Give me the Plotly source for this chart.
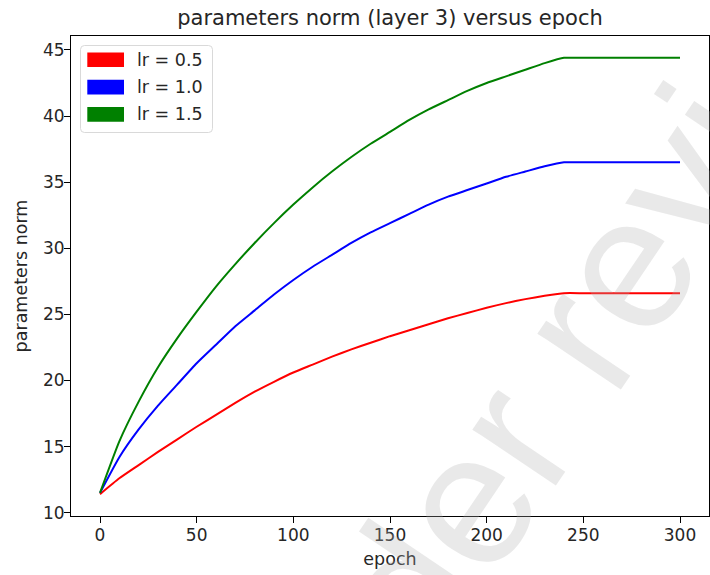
import plotly.graph_objects as go

# ---- data ----
epochs = [0, 10, 20, 30, 40, 50, 60, 70, 80, 90, 100, 110, 120, 130, 140, 150,
          160, 170, 180, 190, 200, 210, 220, 230, 240, 250, 260, 270, 280, 290, 300]
norm_lr_05 = [11.4, 12.6, 13.6, 14.6, 15.55, 16.5, 17.4, 18.3, 19.15, 19.9, 20.6, 21.2, 21.8,
              22.35, 22.85, 23.35, 23.8, 24.25, 24.7, 25.1, 25.5, 25.85, 26.15, 26.4, 26.6,
              26.6, 26.6, 26.6, 26.6, 26.6, 26.6]
norm_lr_10 = [11.5, 14.2, 16.3, 18.1, 19.7, 21.3, 22.7, 24.1, 25.3, 26.5, 27.6, 28.6, 29.5,
              30.4, 31.2, 31.9, 32.6, 33.3, 33.9, 34.4, 34.9, 35.4, 35.8, 36.2, 36.5,
              36.5, 36.5, 36.5, 36.5, 36.5, 36.5]
norm_lr_15 = [11.5, 15.4, 18.4, 21.0, 23.2, 25.2, 27.1, 28.8, 30.4, 31.9, 33.3, 34.6, 35.8,
              36.9, 37.9, 38.8, 39.7, 40.5, 41.2, 41.9, 42.5, 43.0, 43.5, 44.0, 44.4,
              44.4, 44.4, 44.4, 44.4, 44.4, 44.4]
series_labels = ["lr = 0.5", "lr = 1.0", "lr = 1.5"]
series_colors = ["#ff0000", "#0000ff", "#008000"]
x_ticks = [0, 50, 100, 150, 200, 250, 300]
y_ticks = [10, 15, 20, 25, 30, 35, 40, 45]

W, H = 710, 575
L, R, T, B = 71, 709, 36, 516  # plot area in pixels

def px(x):
    return (x - L) / (R - L)

def py(y):
    return (B - y) / (B - T)

FONT = "DejaVu Sans"
TXT = "#262626"

fig = go.Figure()
for vals, name, col in zip([norm_lr_05, norm_lr_10, norm_lr_15], series_labels, series_colors):
    fig.add_trace(go.Scatter(x=epochs, y=vals, mode="lines", name=name,
                             line=dict(color=col, width=2, shape="spline", smoothing=0.5),
                             showlegend=False, hoverinfo="skip"))

axis_common = dict(showgrid=False, zeroline=False, showline=True, mirror=True,
                   linecolor="#000000", linewidth=1, ticks="outside", ticklen=6,
                   tickcolor="#000000", tickwidth=1,
                   tickfont=dict(family=FONT, size=17, color=TXT))

fig.update_layout(
    width=W, height=H,
    margin=dict(l=L, r=W - R, t=T, b=H - B),
    paper_bgcolor="white", plot_bgcolor="white",
    title=dict(text="parameters norm (layer 3) versus epoch", x=0.5,
               xref="paper", y=1 - 18 / H, yref="container", yanchor="middle",
               font=dict(family=FONT, size=21, color=TXT)),
    xaxis=dict(range=[-15, 315], tickvals=x_ticks, ticktext=[str(v) for v in x_ticks],
               ticklabelstandoff=-2,
               title=dict(text="epoch", standoff=8, font=dict(family=FONT, size=17.5, color=TXT)),
               **axis_common),
    yaxis=dict(range=[9.75, 46.05], tickvals=y_ticks, ticktext=[str(v) for v in y_ticks],
               ticklabelstandoff=-4,
               title=dict(text="parameters norm", standoff=10, font=dict(family=FONT, size=17.5, color=TXT)),
               **axis_common),
)

# ---- legend (drawn manually to get matplotlib-like patches) ----
bx0, bx1, by0, by1, r = 80.5, 212.5, 45.5, 132.5, 4
path = (f"M {px(bx0 + r)},{py(by0)} L {px(bx1 - r)},{py(by0)} Q {px(bx1)},{py(by0)} {px(bx1)},{py(by0 + r)} "
        f"L {px(bx1)},{py(by1 - r)} Q {px(bx1)},{py(by1)} {px(bx1 - r)},{py(by1)} "
        f"L {px(bx0 + r)},{py(by1)} Q {px(bx0)},{py(by1)} {px(bx0)},{py(by1 - r)} "
        f"L {px(bx0)},{py(by0 + r)} Q {px(bx0)},{py(by0)} {px(bx0 + r)},{py(by0)} Z")
fig.add_shape(type="path", path=path, xref="paper", yref="paper",
              line=dict(color="#d9d9d9", width=1), fillcolor="rgba(255,255,255,0.8)")
for i, (name, col) in enumerate(zip(series_labels, series_colors)):
    cy = 59.8 + 27.3 * i
    fig.add_shape(type="rect", xref="paper", yref="paper",
                  x0=px(87.3), x1=px(124), y0=py(cy + 7.3), y1=py(cy - 7.3),
                  line=dict(width=0), fillcolor=col)
    fig.add_annotation(text=name, xref="paper", yref="paper", x=px(135), y=py(cy),
                       xanchor="left", yanchor="middle", showarrow=False,
                       font=dict(family=FONT, size=17.5, color=TXT))

# ---- watermark ----
fig.add_annotation(text="Under review", xref="paper", yref="paper",
                   x=px(553), y=py(372), xanchor="center", yanchor="middle",
                   textangle=-56, showarrow=False,
                   font=dict(family="Liberation Sans", size=190, color="rgba(175,175,175,0.28)"))

fig.write_html("out.html", config={"displayModeBar": False},
               post_script="document.body.style.margin='0px';")
